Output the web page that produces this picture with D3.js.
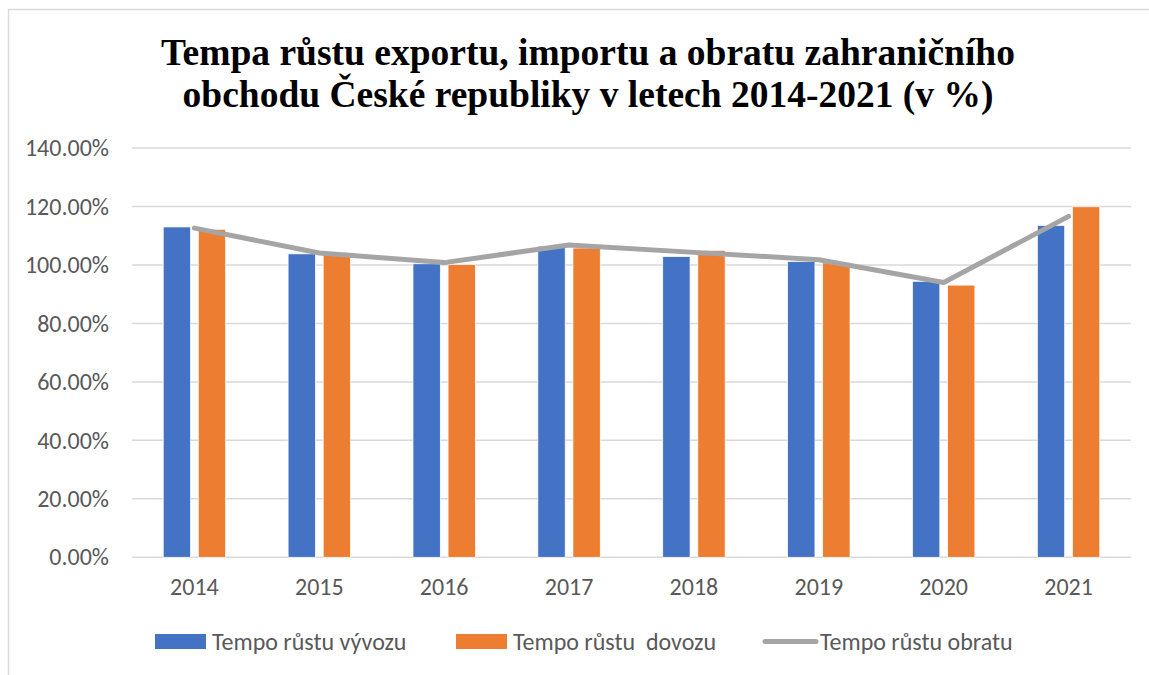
<!DOCTYPE html>
<html>
<head>
<meta charset="utf-8">
<script src="https://cdn.jsdelivr.net/npm/d3@7/dist/d3.min.js"></script>
<style>
  html, body { margin: 0; padding: 0; background: #fff; }
  svg { display: block; }
</style>
</head>
<body>
<svg id="chart" width="1149" height="675"></svg>
<script>
const titleLines = ["Tempa růstu exportu, importu a obratu zahraničního",
                    "obchodu České republiky v letech 2014-2021 (v %)"];
const years = ["2014", "2015", "2016", "2017", "2018", "2019", "2020", "2021"];
const exportGrowth = [113.0, 103.8, 100.4, 106.4, 102.9, 101.2, 94.4, 113.5];
const importGrowth = [112.2, 104.3, 100.1, 105.8, 105.0, 100.7, 93.1, 119.9];
const turnoverGrowth = [112.6, 104.1, 100.8, 106.8, 104.3, 101.8, 94.0, 116.6];
const yTicks = [0, 20, 40, 60, 80, 100, 120, 140];
const seriesNames = ["Tempo růstu vývozu", "Tempo růstu  dovozu", "Tempo růstu obratu"];
const colors = ["#4472C4", "#ED7D31", "#A5A5A5"];

const svg = d3.select("#chart");
const font = "Carlito, Calibri, Lato, 'Open Sans', sans-serif";

// chart border
svg.append("rect").attr("x", 8.5).attr("y", 9.5).attr("width", 1160).attr("height", 700)
  .attr("fill", "none").attr("stroke", "#D9D9D9").attr("stroke-width", 1.5);

// title
const title = svg.append("g");
titleLines.forEach((t, i) => {
  title.append("text")
    .attr("x", 588).attr("y", 64.5 + i * 42.5)
    .attr("text-anchor", "middle")
    .attr("font-family", "'Liberation Serif', 'Times New Roman', serif")
    .attr("font-weight", "bold")
    .attr("font-size", 37.5)
    .attr("fill", "#000")
    .text(t);
});

const plotLeft = 132, plotRight = 1131, plotTop = 148, plotBottom = 557.3;
const y = d3.scaleLinear().domain([0, 140]).range([plotBottom, plotTop]);
const x0 = d3.scaleBand().domain(years).range([plotLeft, plotRight]).padding(0);
const groupW = x0.bandwidth() * 0.5;
const x1 = d3.scaleBand().domain([0, 1]).range([0, groupW]).paddingInner(0.22);
const groupOff = (x0.bandwidth() - groupW) / 2;

// gridlines
svg.append("g").selectAll("line").data(yTicks).join("line")
  .attr("x1", plotLeft).attr("x2", plotRight)
  .attr("y1", d => y(d)).attr("y2", d => y(d))
  .attr("stroke", "#D9D9D9").attr("stroke-width", 1.5);

// y axis labels
const yAxis = d3.axisLeft(y).tickValues(yTicks).tickSize(0).tickPadding(0)
  .tickFormat(d => d.toFixed(2) + "%");
const yg = svg.append("g").attr("transform", `translate(109,0)`).call(yAxis);
yg.select(".domain").remove();
yg.selectAll("text").attr("font-family", font).attr("font-size", 24).attr("fill", "#595959");

// x axis labels
const xAxis = d3.axisBottom(x0).tickSize(0).tickPadding(0);
const xg = svg.append("g").attr("transform", `translate(0,${plotBottom + 21})`).call(xAxis);
xg.select(".domain").remove();
xg.selectAll("text").attr("font-family", font).attr("font-size", 24).attr("fill", "#595959");

// bars
const barSeries = [exportGrowth, importGrowth];
barSeries.forEach((vals, si) => {
  svg.append("g").selectAll("rect").data(vals).join("rect")
    .attr("x", (d, i) => x0(years[i]) + groupOff + x1(si))
    .attr("width", x1.bandwidth())
    .attr("y", d => y(d))
    .attr("height", d => plotBottom - y(d))
    .attr("fill", colors[si])
    .attr("stroke", "#fff").attr("stroke-width", 0.75);
});

// line
const line = d3.line()
  .x((d, i) => x0(years[i]) + x0.bandwidth() / 2)
  .y(d => y(d));
svg.append("path").datum(turnoverGrowth)
  .attr("d", line).attr("fill", "none")
  .attr("stroke", colors[2]).attr("stroke-width", 5)
  .attr("stroke-linecap", "round").attr("stroke-linejoin", "round");

// legend
const legendItems = [
  { name: seriesNames[0], x: 155, type: "rect" },
  { name: seriesNames[1], x: 456, type: "rect" },
  { name: seriesNames[2], x: 763, type: "line" }
];
const lg = svg.append("g");
legendItems.forEach((it, i) => {
  if (it.type === "rect") {
    lg.append("rect").attr("x", it.x).attr("y", 634).attr("width", 51).attr("height", 15)
      .attr("fill", colors[i]);
  } else {
    lg.append("line").attr("x1", it.x + 2).attr("x2", it.x + 53).attr("y1", 641.5).attr("y2", 641.5)
      .attr("stroke", colors[i]).attr("stroke-width", 5).attr("stroke-linecap", "round");
  }
  lg.append("text").attr("x", it.x + 57).attr("y", 641.5).attr("dy", "0.35em")
    .attr("font-family", font).attr("font-size", 24).attr("fill", "#595959")
    .attr("xml:space", "preserve").style("white-space", "pre")
    .text(it.name);
});
</script>
</body>
</html>
